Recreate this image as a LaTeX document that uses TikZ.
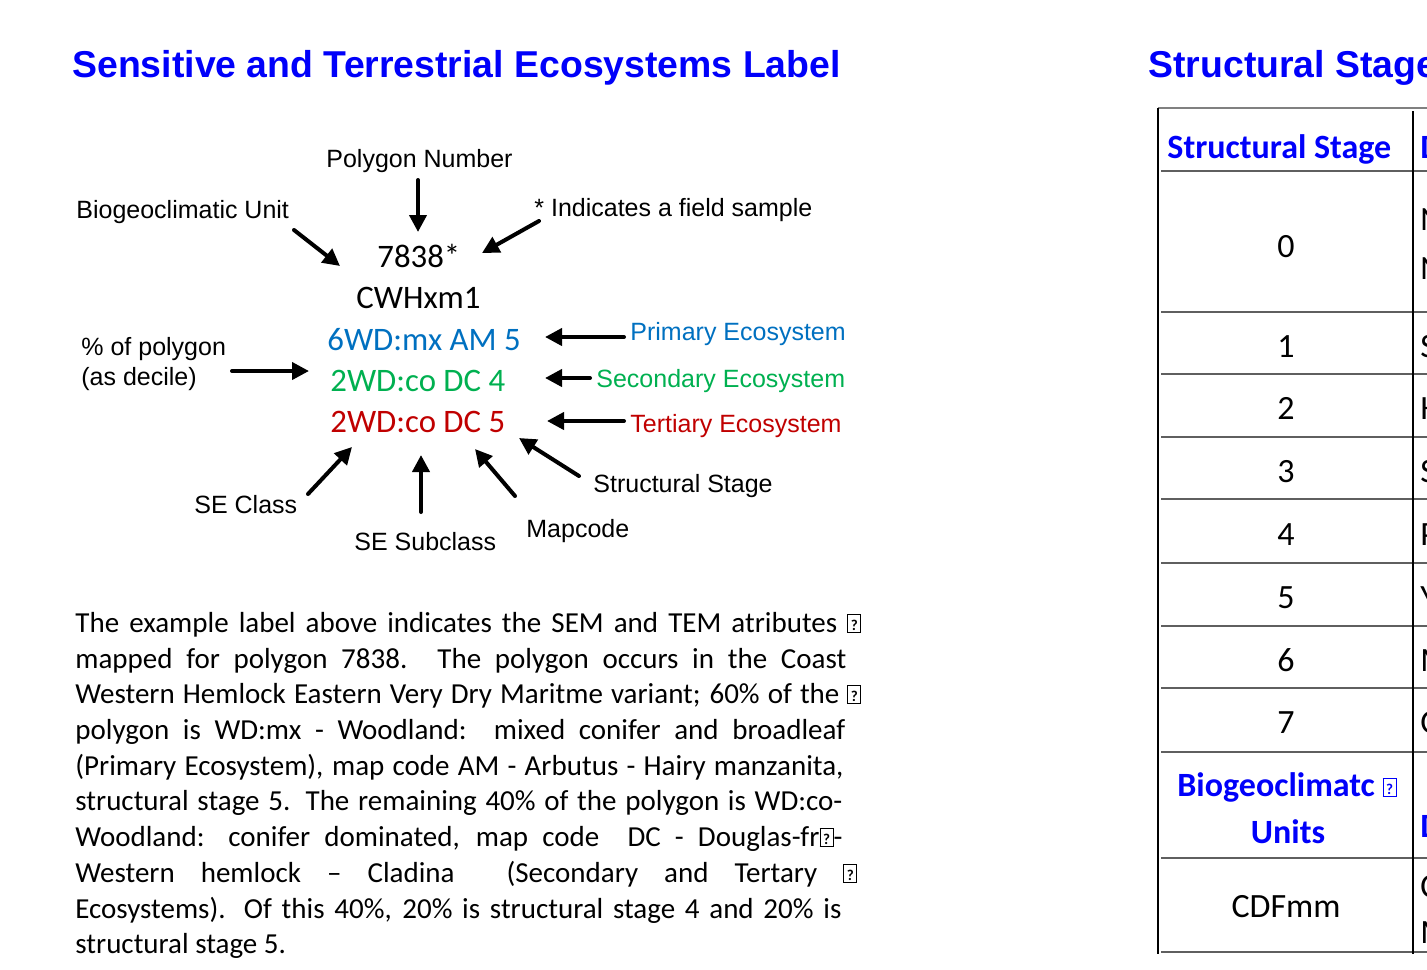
\documentclass[tikz,border=0pt]{standalone}
\usepackage{fontspec}
\setmainfont{Carlito}
\newfontfamily\arialfont{Liberation Sans}
\usetikzlibrary{arrows.meta}
\definecolor{headblue}{RGB}{0,0,250}
\definecolor{primblue}{RGB}{0,112,192}
\definecolor{secgreen}{RGB}{0,176,80}
\definecolor{terred}{RGB}{192,0,0}
\definecolor{rulegray}{RGB}{95,95,95}
\newcommand{\tofu}{{\setlength{\fboxsep}{0pt}\setlength{\fboxrule}{0.5pt}\fbox{\makebox[6pt]{\rule{0pt}{8.5pt}\raisebox{1pt}{\fontsize{7.5}{7.5}\selectfont\bfseries ?}}}}}
\newcommand{\lbl}[5]{\node[#1] (#2) at ( #3 , #4 ) {#5};}
\newcommand{\parline}[4]{\node[partext] (#1) at ( 75 , #2 ) {\makebox[#3][s]{#4}};}
\newcommand{\arrw}[5]{\coordinate (#1T) at ( #2 , #3 ); \coordinate (#1H) at ( #4 , #5 ); \draw[arr] (#1T) -- (#1H);}
\newcommand{\hrow}[1]{\draw[rowline] ( 1161 , #1 ) -- ( 1427 , #1 );}
\tikzset{
  heading/.style={anchor=base west, inner sep=0pt, text=headblue, font=\arialfont\bfseries\fontsize{18.7}{22}\selectfont},
  lbltext/.style={anchor=base west, inner sep=0pt, font=\arialfont\fontsize{12.5}{15}\selectfont},
  codetext/.style={anchor=base west, inner sep=0pt, font=\fontsize{16.4}{20}\selectfont},
  partext/.style={anchor=base west, inner sep=0pt, font=\fontsize{14.5}{18}\selectfont},
  celltext/.style={anchor=base, inner sep=0pt, font=\fontsize{17}{20}\selectfont},
  cellhead/.style={celltext, text=headblue, font=\bfseries\fontsize{17}{20}\selectfont},
  cutcell/.style={anchor=base west, inner sep=0pt, font=\fontsize{17}{20}\selectfont},
  arr/.style={line width=2pt, line cap=round, -{Triangle[length=8.5pt,width=8.5pt]}},
  rowline/.style={line width=1pt, draw=rulegray},
  colline/.style={line width=0.8pt, draw=black}
}
\begin{document}
\begin{tikzpicture}[x=0.5pt, y=-0.5pt]
        \useasboundingbox ( 0 , 0 ) rectangle ( 1427 , 969 );
        \clip ( 0 , 0 ) rectangle ( 1427 , 969 );

        % headings
        \lbl{heading}{title}{72}{77}{Sensitive and Terrestrial Ecosystems Label}
        \lbl{heading}{sstitle}{1148}{77}{Structural Stage}

        % label parts
        \lbl{codetext}{polyno}{377}{267}{7838*}
        \lbl{codetext}{bgcunit}{356}{308}{CWHxm1}
        \lbl{codetext,text=primblue}{primeco}{327}{350}{6WD:mx AM 5}
        \lbl{codetext,text=secgreen}{sececo}{330}{391}{2WD:co DC 4}
        \lbl{codetext,text=terred}{tereco}{330}{432}{2WD:co DC 5}

        % explanations
        \lbl{lbltext}{pnum}{326}{167}{Polygon Number}
        \lbl{lbltext}{bgeo}{76}{218}{Biogeoclimatic Unit}
        \lbl{lbltext}{field}{534}{216}{* Indicates a field sample}
        \lbl{lbltext}{pct}{81}{355}{\% of polygon}
        \lbl{lbltext}{decile}{81}{385}{(as decile)}
        \lbl{lbltext,text=primblue}{prim}{630}{340}{Primary Ecosystem}
        \lbl{lbltext,text=secgreen}{sec}{596}{387}{Secondary Ecosystem}
        \lbl{lbltext,text=terred}{ter}{630}{432}{Tertiary Ecosystem}
        \lbl{lbltext}{seclass}{194}{513}{SE Class}
        \lbl{lbltext}{sesub}{354}{550}{SE Subclass}
        \lbl{lbltext}{mapc}{526}{537}{Mapcode}
        \lbl{lbltext}{sstage}{593}{492}{Structural Stage}

        % arrows
        \arrw{pn}{418}{180}{418}{232}
        \arrw{bg}{294}{230}{340}{266}
        \arrw{fs}{539}{221}{482}{253}
        \arrw{pc}{232}{371}{309}{371}
        \arrw{pr}{624}{337}{545}{337}
        \arrw{sc}{590}{378}{545}{378}
        \arrw{tt}{624}{421}{547}{421}
        \arrw{cl}{308}{494}{352}{447}
        \arrw{sb}{421}{512}{421}{455}
        \arrw{mc}{515}{496}{475}{449}
        \arrw{ss}{579}{476}{519}{438}

        % paragraph
        \parline{p1}{632}{393pt}{The example label above indicates the SEM and TEM atributes \tofu}
        \parline{p2}{668}{385.5pt}{mapped for polygon 7838.  The polygon occurs in the Coast}
        \parline{p3}{703}{393pt}{Western Hemlock Eastern Very Dry Maritme variant; 60\% of the \tofu}
        \parline{p4}{739}{385pt}{polygon is WD:mx - Woodland:\ \ mixed conifer and broadleaf}
        \parline{p5}{775}{384pt}{(Primary Ecosystem), map code AM - Arbutus - Hairy manzanita,}
        \parline{p6}{810}{383.5pt}{structural stage 5.  The remaining 40\% of the polygon is WD:co-}
        \parline{p7}{846}{383.5pt}{Woodland: conifer dominated, map code\ \ DC - Douglas-fr\tofu-}
        \parline{p8}{882}{391pt}{Western hemlock – Cladina\ \ (Secondary and Tertary \tofu}
        \parline{p9}{918}{383pt}{Ecosystems).  Of this 40\%, 20\% is structural stage 4 and 20\% is}
        \lbl{partext}{p10}{75}{953}{structural stage 5.}

        % table rules
        \draw[rowline, line width=0.6pt, draw=gray] ( 1158 , 108 ) -- ( 1427 , 108 );
        \hrow{171}
        \hrow{312}
        \hrow{374}
        \hrow{437}
        \hrow{499}
        \hrow{563}
        \hrow{626}
        \hrow{688}
        \hrow{752}
        \hrow{858}
        \hrow{952}
        \draw[colline] ( 1158 , 108 ) -- ( 1158 , 954 );
        \draw[colline] ( 1413 , 111 ) -- ( 1413 , 954 );

        % table column 1
        \lbl{cellhead,anchor=base west}{sshead}{1167}{158}{Structural Stage}
        \lbl{celltext}{ss0}{1286}{257}{0}
        \lbl{celltext}{ss1}{1286}{357}{1}
        \lbl{celltext}{ss2}{1286}{419}{2}
        \lbl{celltext}{ss3}{1286}{482}{3}
        \lbl{celltext}{ss4}{1286}{545}{4}
        \lbl{celltext}{ss5}{1286}{608}{5}
        \lbl{celltext}{ss6}{1286}{671}{6}
        \lbl{celltext}{ss7}{1286}{733}{7}
        \lbl{cellhead,anchor=base west}{bguhead}{1177}{796}{Biogeoclimatc \tofu}
        \lbl{cellhead}{bguhead2}{1288}{843}{Units}
        \lbl{celltext}{cdf}{1286}{917}{CDFmm}

        % table column 2 (cut off)
        \lbl{cutcell,text=headblue,font=\bfseries\fontsize{17}{20}\selectfont}{dhead}{1420}{158}{D}
        \lbl{cutcell}{d0a}{1420}{230}{N}
        \lbl{cutcell}{d0b}{1420}{279}{N}
        \lbl{cutcell}{d1}{1420}{357}{S}
        \lbl{cutcell}{d2}{1420}{419}{H}
        \lbl{cutcell}{d3}{1420}{482}{S}
        \lbl{cutcell}{d4}{1420}{545}{P}
        \lbl{cutcell}{d5}{1420}{608}{Y}
        \lbl{cutcell}{d6}{1420}{671}{M}
        \lbl{cutcell}{d7}{1420}{733}{O}
        \lbl{cutcell,text=headblue,font=\bfseries\fontsize{17}{20}\selectfont}{dbgu}{1420}{837}{D}
        \lbl{cutcell}{dcdfa}{1420}{897}{C}
        \lbl{cutcell}{dcdfb}{1420}{943}{M}
\end{tikzpicture}
\end{document}
